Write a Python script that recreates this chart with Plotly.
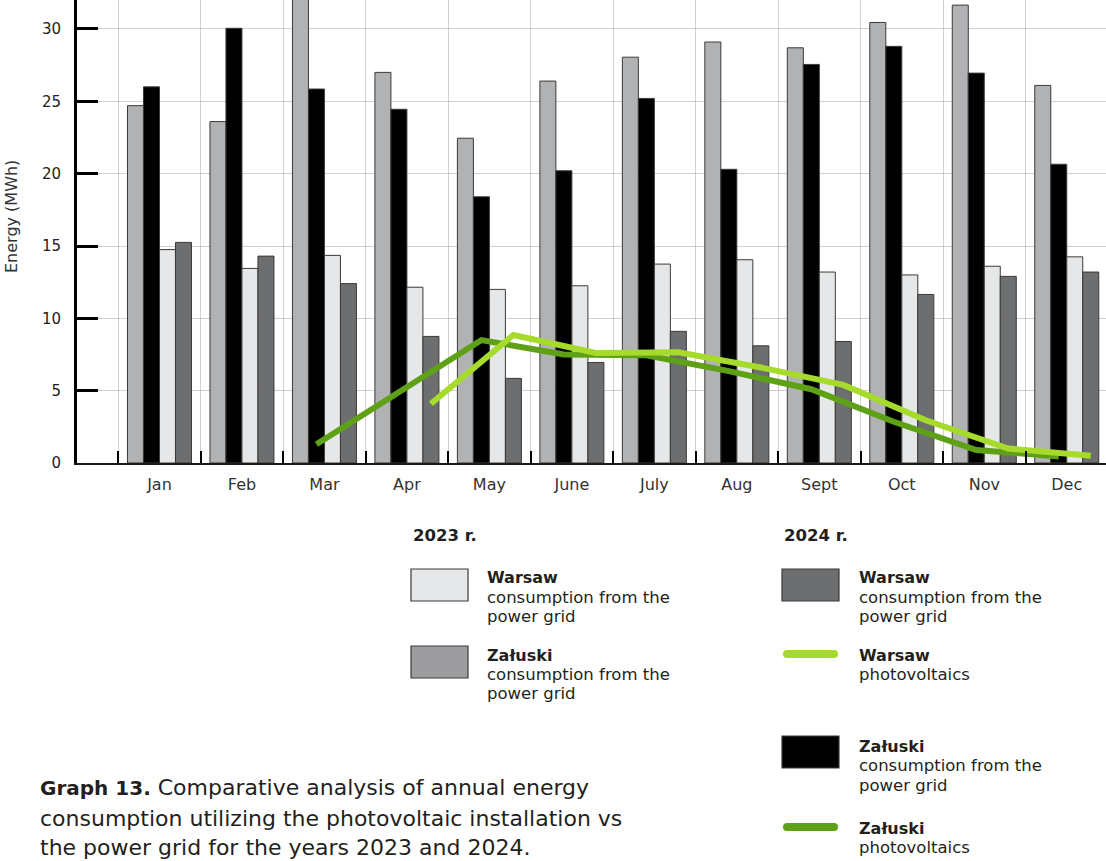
import plotly.graph_objects as go

months = ["Jan", "Feb", "Mar", "Apr", "May", "June", "July", "Aug", "Sept", "Oct", "Nov", "Dec"]
zaluski_2023 = [24.7, 23.6, 33.0, 27.0, 22.45, 26.4, 28.05, 29.1, 28.7, 30.45, 31.65, 26.1]
zaluski_2024 = [26.0, 30.05, 25.85, 24.45, 18.4, 20.2, 25.2, 20.3, 27.55, 28.8, 26.95, 20.65]
warsaw_2023 = [14.75, 13.45, 14.35, 12.15, 12.0, 12.25, 13.75, 14.05, 13.2, 13.0, 13.6, 14.25]
warsaw_2024 = [15.25, 14.3, 12.4, 8.75, 5.85, 6.95, 9.1, 8.1, 8.4, 11.65, 12.9, 13.2]
zaluski_pv = [None, None, 1.3, 4.9, 8.5, 7.5, 7.45, 6.35, 5.1, 2.85, 0.9, 0.45]
warsaw_pv = [None, None, None, 4.1, 8.85, 7.6, 7.65, 6.6, 5.4, 2.95, 1.0, 0.5]
yticks = [0, 5, 10, 15, 20, 25, 30]

FONT = "DejaVu Sans"
TXT = "#231f20"
W, H = 1106, 861
L, R, T, B = 77, 0, 0, 398
PW, PH = W - L - R, H - T - B

BARGAP = 0.224
NB = 4
bw = (1 - BARGAP) / NB
def offs(k):
    return -(1 - BARGAP) / 2 + bw * (k + 0.5)

xs = list(range(len(months)))
fig = go.Figure()
bar_specs = [
    ("Załuski 2023", zaluski_2023, "#b1b2b4"),
    ("Załuski 2024", zaluski_2024, "#000000"),
    ("Warsaw 2023", warsaw_2023, "#e6e7e8"),
    ("Warsaw 2024", warsaw_2024, "#6d6e70"),
]
for name, vals, col in bar_specs:
    fig.add_bar(x=xs, y=vals, name=name, marker=dict(color=col, line=dict(color="#3a3a3a", width=1)),
                showlegend=False)

fig.add_scatter(x=[i + offs(1) for i in xs], y=zaluski_pv, mode="lines", name="Załuski PV",
                line=dict(color="#5ea116", width=6), showlegend=False, connectgaps=False)
fig.add_scatter(x=[i + offs(3) for i in xs], y=warsaw_pv, mode="lines", name="Warsaw PV",
                line=dict(color="#a6da2b", width=6), showlegend=False, connectgaps=False)

fig.update_layout(
    width=W, height=H, margin=dict(l=L, r=R, t=T, b=B),
    barmode="group", bargap=BARGAP, bargroupgap=0,
    plot_bgcolor="white", paper_bgcolor="white",
    font=dict(family=FONT, color=TXT),
)
fig.update_xaxes(
    range=[-1, -1 + PW / 82.48], tickmode="array", tickvals=xs, ticktext=months,
    ticks="", showgrid=False, showline=True, linecolor="#1a1a1a", linewidth=2,
    tickfont=dict(size=16, family=FONT, color="#333"), ticklabelstandoff=6,
    minor=dict(tickmode="linear", tick0=-0.5, dtick=1, ticks="inside", ticklen=12,
               tickwidth=2, tickcolor="#000", showgrid=True, gridcolor="rgba(150,150,150,0.45)", gridwidth=1),
    zeroline=False,
)
fig.update_yaxes(
    range=[0, 463 / 14.467], tickmode="array", tickvals=yticks,
    ticks="inside", ticklen=21, tickwidth=3, tickcolor="#000",
    showline=True, linecolor="#000", linewidth=3,
    showgrid=True, gridcolor="rgba(150,150,150,0.45)", gridwidth=1,
    tickfont=dict(size=15, family=FONT, color="#222"), ticklabelstandoff=10,
    zeroline=False,
)

def px(x):
    return (x - L) / PW
def py(y):
    return 1 - (y - T) / PH

ann = []
def text(x, y, s, size=16.5, bold=False, color=TXT, xanchor="left"):
    ann.append(dict(x=px(x), y=py(y), xref="paper", yref="paper", text=(f"<b>{s}</b>" if bold else s),
                    showarrow=False, xanchor=xanchor, yanchor="middle",
                    font=dict(size=size, family=FONT, color=color)))

# y axis title
ann.append(dict(x=px(11), y=py(217), xref="paper", yref="paper", text="Energy (MWh)", textangle=-90,
                showarrow=False, xanchor="center", yanchor="middle", font=dict(size=16, family=FONT, color="#333")))

text(411, 535, "2023 r.", size=16.5, bold=True)
text(782, 535, "2024 r.", size=16.5, bold=True)

shapes = []
def box(x0, y0, x1, y1, color):
    shapes.append(dict(type="rect", xref="paper", yref="paper", x0=px(x0), x1=px(x1), y0=py(y1), y1=py(y0),
                       fillcolor=color, line=dict(color="#3a3a3a", width=1.2)))
def leg_line(x0, x1, y, color):
    shapes.append(dict(type="line", xref="paper", yref="paper", x0=px(x0), x1=px(x1), y0=py(y), y1=py(y),
                       line=dict(color=color, width=8)))
    for xc in (x0, x1):
        shapes.append(dict(type="circle", xref="paper", yref="paper", x0=px(xc - 4), x1=px(xc + 4),
                           y0=py(y + 4), y1=py(y - 4), fillcolor=color, line=dict(width=0)))

box(411, 569, 468, 601, "#e6e7e8")
text(485, 577, "Warsaw", bold=True, size=16)
text(485, 597, "consumption from the")
text(485, 616, "power grid")

box(411, 646, 468, 678, "#9d9d9f")
text(485, 655, "Załuski", bold=True, size=16)
text(485, 674, "consumption from the")
text(485, 693, "power grid")

box(782, 569, 839, 601, "#6d6e70")
text(857, 577, "Warsaw", bold=True, size=16)
text(857, 597, "consumption from the")
text(857, 616, "power grid")

leg_line(787, 834, 654, "#a6da2b")
text(857, 655, "Warsaw", bold=True, size=16)
text(857, 674, "photovoltaics")

box(782, 736, 839, 768, "#000000")
text(857, 746, "Załuski", bold=True, size=16)
text(857, 765, "consumption from the")
text(857, 785, "power grid")

leg_line(787, 834, 827, "#5ea116")
text(857, 828, "Załuski", bold=True, size=16)
text(857, 847, "photovoltaics")

text(38, 787, "<span style='font-size:20px'><b>Graph 13.</b></span> Comparative analysis of annual energy", size=22)
text(38, 818, "consumption utilizing the photovoltaic installation vs", size=22)
text(38, 847, "the power grid for the years 2023 and 2024.", size=22)

fig.update_layout(annotations=ann, shapes=shapes)
fig.write_html("out.html")
